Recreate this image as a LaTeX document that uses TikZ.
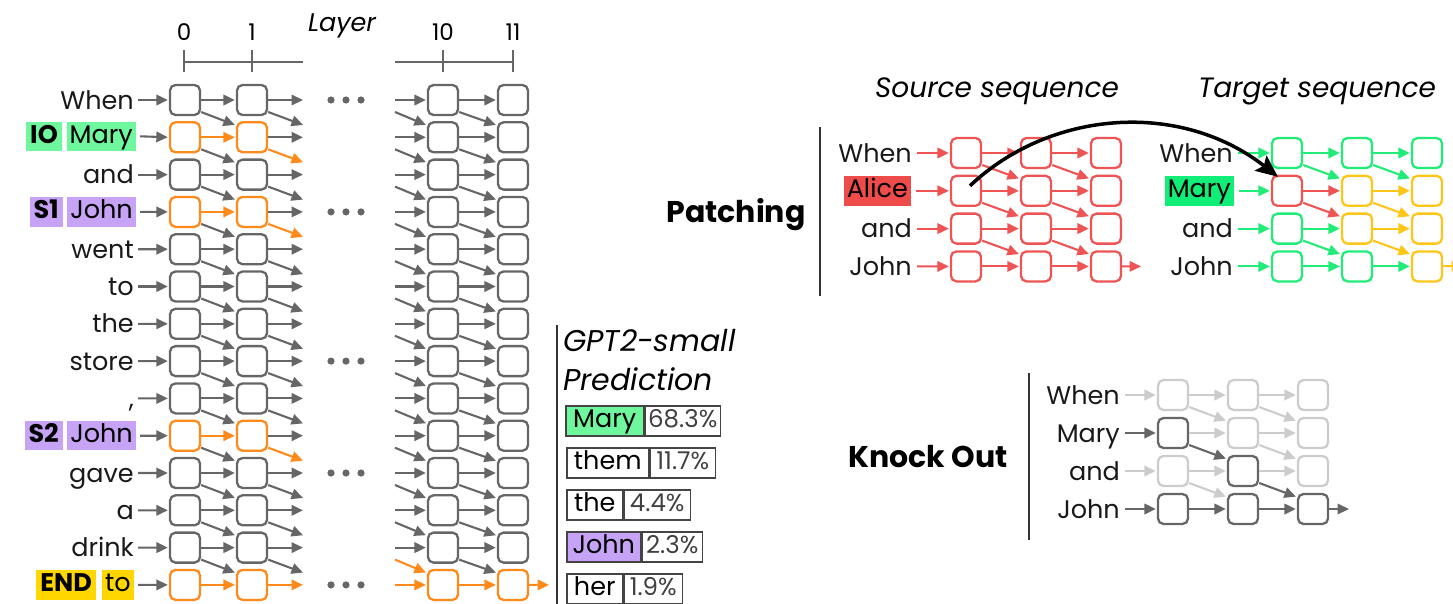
\documentclass[tikz,border=0pt]{standalone}
\usepackage{fontspec}
\setmainfont{Poppins}
\usetikzlibrary{arrows.meta}
\definecolor{g}{HTML}{666666}
\definecolor{o}{HTML}{FF8A1C}
\definecolor{rd}{HTML}{EF5454}
\definecolor{gn}{HTML}{22EC78}
\definecolor{yl}{HTML}{FFC61A}
\definecolor{lt}{HTML}{CCCCCC}
\definecolor{dk}{HTML}{666666}
\definecolor{iobg}{HTML}{6EF79C}
\definecolor{sbg}{HTML}{C6A3F4}
\definecolor{endbg}{HTML}{FFD600}
\definecolor{alicebg}{HTML}{EE4B4B}
\definecolor{marybg}{HTML}{10EE78}
\definecolor{cellline}{HTML}{444444}
\newcommand\myfs{\fontsize{25.5}{30}\selectfont}
\newcommand\mysmall{\fontsize{23}{27}\selectfont}
\newcommand\mymid{\fontsize{28}{33}\selectfont}
\newcommand\mybig{\fontsize{30}{36}\selectfont}
\begin{document}
\begin{tikzpicture}[x=1pt,y=-1pt,
  box/.style={draw=#1, line width=2.3pt, rounded corners=5.5pt, minimum width=30pt, minimum height=30pt, inner sep=0pt, fill=white},
  box/.default=g,
  arr/.style={draw=#1, line width=2.1pt, -{Triangle[length=11.5pt,width=10.5pt]}, shorten >=1pt},
  arr/.default=g,
  lbl/.style={anchor=east, inner sep=0pt, font=\myfs, text height=18pt, text depth=0pt, text=black!90},
  tag/.style={anchor=east, inner xsep=3pt, inner ysep=1.5pt, font=\myfs, text height=20pt, text depth=6.5pt, fill=#1},
  btag/.style={anchor=east, inner xsep=4pt, inner ysep=1.5pt, font=\myfs\bfseries, text height=20pt, text depth=6.5pt, fill=#1},
  cell/.style={draw=cellline, line width=1.5pt, minimum height=30pt, inner sep=2pt, anchor=west, font=\myfs, text height=19pt, text depth=6pt},
  pct/.style={cell, font=\fontsize{24.5}{29}\selectfont, text=black!75},
  ]
\useasboundingbox (0,0) rectangle (1453,603);

% ---------------- Layer axis ----------------
\node[font=\myfs\itshape, inner sep=0pt, text height=18pt, text depth=0pt] (layer) at (342,22) {Layer};
\node[font=\mysmall] (l0) at (184,32) {0};
\node[font=\mysmall] (l1) at (252,32) {1};
\node[font=\mysmall] (l10) at (443,32) {10};
\node[font=\mysmall] (l11) at (513,32) {11};
\coordinate (ax0) at (184,62);
\coordinate (ax1) at (303,62);
\coordinate (ax2) at (395,62);
\coordinate (ax3) at (513,62);
\draw[g, line width=1.5pt] (ax0) -- (ax1);
\draw[g, line width=1.5pt] (ax2) -- (ax3);
\foreach \xx in {184,252,443,513} \draw[g, line width=1.5pt] (\xx,50) -- (\xx,72);

% ---------------- Left labels ----------------
\node[lbl] (t0) at (134,100) {When};
\node[tag=iobg] (t1) at (136,136.3) {Mary};
\node[btag=iobg] (io) at (62,136.3) {IO};
\node[lbl] (t2) at (134,174.6) {and};
\node[tag=sbg] (t3) at (136,211.9) {John};
\node[btag=sbg] (s1) at (63,211.9) {S1};
\node[lbl] (t4) at (134,249.2) {went};
\node[lbl] (t5) at (134,286.5) {to};
\node[lbl] (t6) at (134,323.8) {the};
\node[lbl] (t7) at (134,361.1) {store};
\node[lbl] (t8) at (134,398.4) {,};
\node[tag=sbg] (t9) at (136,435.7) {John};
\node[btag=sbg] (s2) at (63,435.7) {S2};
\node[lbl] (t10) at (134,473) {gave};
\node[lbl] (t11) at (134,510.3) {a};
\node[lbl] (t12) at (134,547.6) {drink};
\node[tag=endbg] (t13) at (134,584.9) {to};
\node[btag=endbg] (endt) at (96,584.9) {END};

% ---------------- Left grid ----------------
\foreach \i in {0,...,13} {
  \pgfmathsetmacro\y{100+37.3*\i}
  \def\c{g}
  \ifnum\i=1 \def\c{o}\fi
  \ifnum\i=3 \def\c{o}\fi
  \ifnum\i=9 \def\c{o}\fi
  \ifnum\i=13 \def\c{o}\fi
  \def\d{g}
  \ifnum\i=13 \def\d{o}\fi
  \node[box=\c] (a\i) at (185,\y) {};
  \node[box=\c] (b\i) at (252,\y) {};
  \node[box=\d] (c\i) at (443,\y) {};
  \node[box=\d] (e\i) at (513,\y) {};
  \coordinate (bo\i) at (304,\y);
  \coordinate (ci\i) at (395,\y);
}
\foreach \i in {0,...,13} {
  \def\c{g}
  \ifnum\i=1 \def\c{o}\fi
  \ifnum\i=3 \def\c{o}\fi
  \ifnum\i=9 \def\c{o}\fi
  \ifnum\i=13 \def\c{o}\fi
  \def\d{g}
  \ifnum\i=13 \def\d{o}\fi
  \draw[arr] ([xshift=4pt]t\i.east) -- (a\i.west);
  \draw[arr=\c] (a\i.east) -- (b\i.west);
  \draw[arr=\d] (b\i.east) -- (bo\i);
  \draw[arr=\d] (ci\i) -- (c\i.west);
  \draw[arr=\d] (c\i.east) -- (e\i.west);
}
\foreach \i [evaluate=\i as \j using int(\i+1)] in {0,...,12} {
  \def\c{g}
  \ifnum\i=1 \def\c{o}\fi
  \ifnum\i=3 \def\c{o}\fi
  \ifnum\i=9 \def\c{o}\fi
  \def\d{g}
  \ifnum\j=13 \def\d{o}\fi
  \draw[arr] ([yshift=-12pt]a\i.east) -- ([yshift=12pt]b\j.west);
  \draw[arr=\c] ([yshift=-12pt]b\i.east) -- ([yshift=12pt]bo\j);
  \draw[arr=\d] ([yshift=-12pt]ci\i) -- ([yshift=12pt]c\j.west);
  \draw[arr] ([yshift=-12pt]c\i.east) -- ([yshift=12pt]e\j.west);
}
\coordinate (fout) at (550,584.9);
\draw[arr=o] (e13.east) -- (fout);

% dots
\foreach \i in {0,3,7,10,13} {
  \pgfmathsetmacro\y{100+37.3*\i}
  \foreach \xx in {331,346,361} \fill[g] (\xx,\y) circle (3.6pt);
}

% ---------------- Prediction ----------------
\coordinate (pv0) at (557,325);
\coordinate (pv1) at (557,606);
\draw[black!80, line width=2pt] (pv0) -- (pv1);
\node[anchor=west, inner sep=0pt, font=\mybig\itshape, text height=21pt, text depth=0pt] (gpt) at (563,341) {GPT2-small};
\node[anchor=west, inner sep=0pt, font=\mybig\itshape, text height=21pt, text depth=0pt] (pred) at (563,380) {Prediction};
\node[cell, fill=iobg, minimum width=78pt] (p1a) at (565,421) {Mary};
\node[pct, minimum width=75pt] (p1b) at (p1a.east) {68.3\%};
\node[cell, minimum width=82pt] (p2a) at (566,463) {them};
\node[pct, minimum width=65pt] (p2b) at (p2a.east) {11.7\%};
\node[cell, minimum width=56pt] (p3a) at (566,505) {the};
\node[pct, minimum width=66pt] (p3b) at (p3a.east) {4.4\%};
\node[cell, fill=sbg, minimum width=74pt] (p4a) at (566,547) {John};
\node[pct, minimum width=60pt] (p4b) at (p4a.east) {2.3\%};
\node[cell, minimum width=56pt] (p5a) at (566,589) {her};
\node[pct, minimum width=58pt] (p5b) at (p5a.east) {1.9\%};

% ---------------- Patching ----------------
\node[font=\mybig\bfseries, inner sep=0pt, text height=21pt, text depth=0pt] (patch) at (736,212) {Patching};
\coordinate (pl0) at (820,127);
\coordinate (pl1) at (820,296);
\draw[black!80, line width=2pt] (pl0) -- (pl1);
\node[font=\mymid\itshape, inner sep=0pt, text height=20pt, text depth=0pt] (src) at (997,87) {Source sequence};
\node[font=\mymid\itshape, inner sep=0pt, text height=20pt, text depth=0pt] (tgt) at (1317,87) {Target sequence};

\node[lbl] (sl0) at (912,153) {When};
\node[tag=alicebg] (sl1) at (911,190.8) {Alice};
\node[lbl] (sl2) at (912,228.6) {and};
\node[lbl] (sl3) at (912,266.4) {John};
\node[lbl] (tl0) at (1233,153) {When};
\node[tag=marybg] (tl1) at (1234,190.8) {Mary};
\node[lbl] (tl2) at (1233,228.6) {and};
\node[lbl] (tl3) at (1233,266.4) {John};

\foreach \i in {0,...,3} {
  \pgfmathsetmacro\y{153+37.8*\i}
  \foreach \j in {0,1,2} {
    \node[box=rd] (s\i\j) at (966+70*\j,\y) {};
  }
  \draw[arr=rd] ([xshift=5pt]sl\i.east) -- (s\i0.west);
  \draw[arr=rd] (s\i0.east) -- (s\i1.west);
  \draw[arr=rd] (s\i1.east) -- (s\i2.west);
}
\foreach \i [evaluate=\i as \j using int(\i+1)] in {0,1,2} {
  \draw[arr=rd] ([yshift=-12pt]s\i0.east) -- ([yshift=12pt]s\j1.west);
  \draw[arr=rd] ([yshift=-12pt]s\i1.east) -- ([yshift=12pt]s\j2.west);
}
\coordinate (sout) at (1142,266.4);
\draw[arr=rd] (s32.east) -- (sout);

% target boxes
\node[box=gn] (T00) at (1287,153) {};
\node[box=gn] (T01) at (1357,153) {};
\node[box=gn] (T02) at (1427,153) {};
\node[box=rd] (T10) at (1287,190.8) {};
\node[box=yl] (T11) at (1357,190.8) {};
\node[box=yl] (T12) at (1427,190.8) {};
\node[box=gn] (T20) at (1287,228.6) {};
\node[box=yl] (T21) at (1357,228.6) {};
\node[box=yl] (T22) at (1427,228.6) {};
\node[box=gn] (T30) at (1287,266.4) {};
\node[box=gn] (T31) at (1357,266.4) {};
\node[box=yl] (T32) at (1427,266.4) {};
\foreach \i in {0,...,3} \draw[arr=gn] ([xshift=5pt]tl\i.east) -- (T\i0.west);
\draw[arr=gn] (T00.east) -- (T01.west);
\draw[arr=gn] (T01.east) -- (T02.west);
\draw[arr=rd] (T10.east) -- (T11.west);
\draw[arr=yl] (T11.east) -- (T12.west);
\draw[arr=gn] (T20.east) -- (T21.west);
\draw[arr=yl] (T21.east) -- (T22.west);
\draw[arr=gn] (T30.east) -- (T31.west);
\draw[arr=gn] (T31.east) -- (T32.west);
\draw[arr=gn] ([yshift=-12pt]T00.east) -- ([yshift=12pt]T11.west);
\draw[arr=gn] ([yshift=-12pt]T01.east) -- ([yshift=12pt]T12.west);
\draw[arr=rd] ([yshift=-12pt]T10.east) -- ([yshift=12pt]T21.west);
\draw[arr=yl] ([yshift=-12pt]T11.east) -- ([yshift=12pt]T22.west);
\draw[arr=gn] ([yshift=-12pt]T20.east) -- ([yshift=12pt]T31.west);
\draw[arr=yl] ([yshift=-12pt]T21.east) -- ([yshift=12pt]T32.west);
\coordinate (tout) at (1464,266.4);
\draw[arr=yl] (T32.east) -- (tout);

% patch arrow
\coordinate (pstart) at ([xshift=4pt,yshift=5pt]s10.center);
\coordinate (pend) at ([xshift=-9pt,yshift=14pt]T10.center);
\draw[black, line width=3.5pt, -{Stealth[length=22pt,width=19pt,inset=4pt]}] (pstart) .. controls (1050,110) and (1180,100) .. (pend);

% ---------------- Knock Out ----------------
\node[font=\mybig\bfseries, inner sep=0pt, text height=21pt, text depth=0pt] (ko) at (928,457) {Knock Out};
\coordinate (kl0) at (1029,373);
\coordinate (kl1) at (1029,540);
\draw[black!80, line width=2pt] (kl0) -- (kl1);
\node[lbl] (kt0) at (1120,395) {When};
\node[lbl] (kt1) at (1120,433) {Mary};
\node[lbl] (kt2) at (1120,471) {and};
\node[lbl] (kt3) at (1120,509) {John};
\node[box=lt] (K00) at (1173,395) {};
\node[box=lt] (K01) at (1243,395) {};
\node[box=lt] (K02) at (1313,395) {};
\node[box=lt] (K11) at (1243,433) {};
\node[box=lt] (K12) at (1313,433) {};
\node[box=lt] (K20) at (1173,471) {};
\node[box=lt] (K22) at (1313,471) {};
\node[box=dk] (K10) at (1173,433) {};
\node[box=dk] (K21) at (1243,471) {};
\node[box=dk] (K30) at (1173,509) {};
\node[box=dk] (K31) at (1243,509) {};
\node[box=dk] (K32) at (1313,509) {};
\draw[arr=lt] ([xshift=5pt]kt0.east) -- (K00.west);
\draw[arr=lt] ([xshift=5pt]kt2.east) -- (K20.west);
\draw[arr=lt] (K00.east) -- (K01.west);
\draw[arr=lt] (K01.east) -- (K02.west);
\draw[arr=lt] (K10.east) -- (K11.west);
\draw[arr=lt] (K11.east) -- (K12.west);
\draw[arr=lt] (K20.east) -- (K21.west);
\draw[arr=lt] (K21.east) -- (K22.west);
\draw[arr=lt] ([yshift=-12pt]K00.east) -- ([yshift=12pt]K11.west);
\draw[arr=lt] ([yshift=-12pt]K01.east) -- ([yshift=12pt]K12.west);
\draw[arr=lt] ([yshift=-12pt]K11.east) -- ([yshift=12pt]K22.west);
\draw[arr=lt] ([yshift=-12pt]K20.east) -- ([yshift=12pt]K31.west);
\draw[arr=dk] ([xshift=5pt]kt1.east) -- (K10.west);
\draw[arr=dk] ([xshift=5pt]kt3.east) -- (K30.west);
\draw[arr=dk] ([yshift=-12pt]K10.east) -- ([yshift=12pt]K21.west);
\draw[arr=dk] ([yshift=-12pt]K21.east) -- ([yshift=12pt]K32.west);
\draw[arr=dk] (K30.east) -- (K31.west);
\draw[arr=dk] (K31.east) -- (K32.west);
\coordinate (kout) at (1350,509);
\draw[arr=dk] (K32.east) -- (kout);
\end{tikzpicture}
\end{document}
